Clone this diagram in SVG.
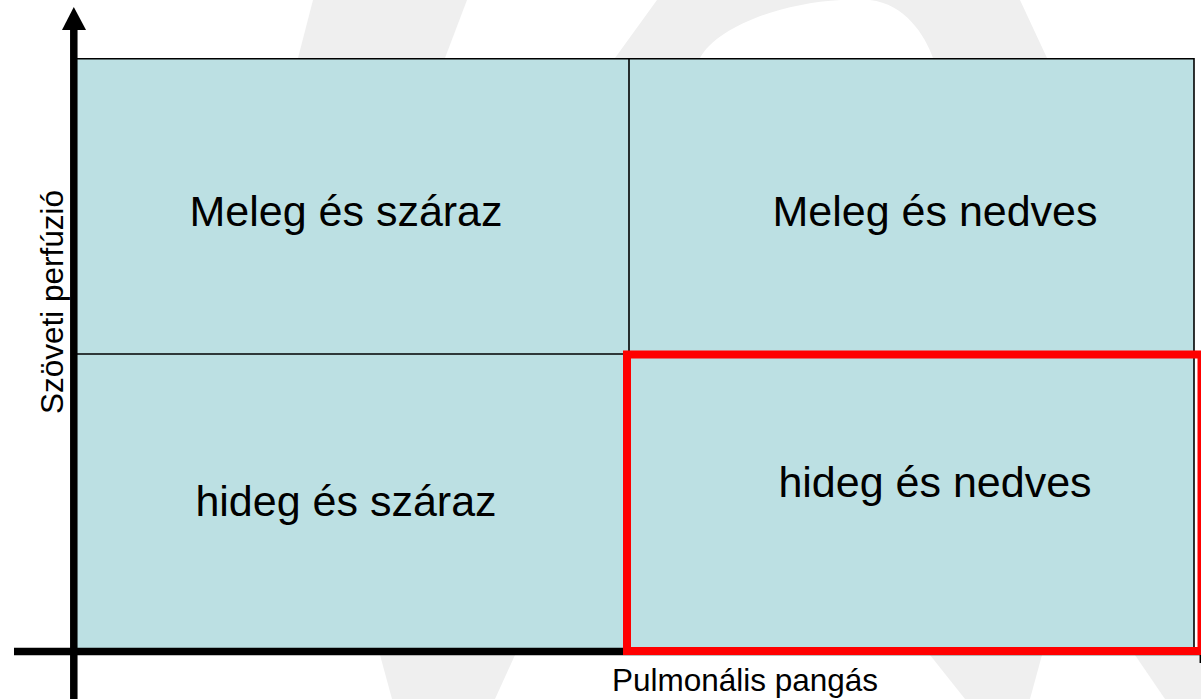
<svg xmlns="http://www.w3.org/2000/svg" width="1201" height="699" viewBox="0 0 1201 699">
  <style>
    .wm { fill: #EFEFEF; stroke: none; }
    .cell { fill: #BCE0E3; stroke: none; }
    .grid { stroke: #000; stroke-width: 1.6; fill: none; }
    .lbl { font-family: "Liberation Sans", Arial, sans-serif; font-size: 43px; fill: #000; text-anchor: middle; }
    .axlbl { font-family: "Liberation Sans", Arial, sans-serif; font-size: 31.5px; fill: #000; text-anchor: middle; }
    .axis { stroke: #000; stroke-width: 7.5; fill: none; }
    .hl { stroke: #FF0000; stroke-width: 8; fill: none; }
  </style>
  <rect x="0" y="0" width="1201" height="699" fill="#FFFFFF"/>
  <g id="watermark">
    <path class="wm" d="M313 0 L467 0 L445 58 L298 58 Z"/>
    <path class="wm" fill-rule="evenodd" d="M657 0 L1020 0 L1047 58 L615 58 Z M700 58 C720 22 800 -4 870 0 C905 4 925 35 933 58 Z"/>
    <path class="wm" d="M380 655 L515 655 L495 699 L392 699 Z"/>
    <path class="wm" d="M930 655 L1042 655 L1030 699 L965 699 Z"/>
    <path class="wm" d="M1135 655 L1201 655 L1201 699 L1165 699 Z"/>
  </g>
  <g id="cell-meleg-szaraz">
    <rect class="cell" x="77" y="58" width="552" height="296"/>
    <text class="lbl" x="346" y="226">Meleg és száraz</text>
  </g>
  <g id="cell-meleg-nedves">
    <rect class="cell" x="629" y="58" width="565" height="296"/>
    <text class="lbl" x="935" y="226">Meleg és nedves</text>
  </g>
  <g id="cell-hideg-szaraz">
    <rect class="cell" x="77" y="354" width="552" height="294"/>
    <text class="lbl" x="346" y="516">hideg és száraz</text>
  </g>
  <g id="cell-hideg-nedves">
    <rect class="cell" x="629" y="354" width="565" height="294"/>
    <text class="lbl" x="935" y="497">hideg és nedves</text>
  </g>
  <g id="grid-lines">
    <line class="grid" x1="77" y1="58.8" x2="1194" y2="58.8"/>
    <line class="grid" x1="629" y1="58" x2="629" y2="648"/>
    <line class="grid" x1="77" y1="354" x2="629" y2="354"/>
    <line class="grid" x1="1194" y1="58" x2="1194" y2="648"/>
  </g>
  <g id="connectors">
    <line class="axis" x1="73.8" y1="28" x2="73.8" y2="699"/>
    <polygon points="73.8,7 62,30 86,30" fill="#000"/>
    <line class="axis" x1="14" y1="651.5" x2="1201" y2="651.5"/>
    <line x1="1200.3" y1="655" x2="1200.3" y2="663" stroke="#000" stroke-width="1.5"/>
  </g>
  <g id="highlight">
    <rect class="hl" x="627" y="354.5" width="574.5" height="296.5"/>
  </g>
  <g id="axis-labels">
    <text class="axlbl" x="745" y="691">Pulmonális pangás</text>
    <text class="axlbl" transform="translate(63,302) rotate(-90)">Szöveti perfúzió</text>
  </g>
</svg>
